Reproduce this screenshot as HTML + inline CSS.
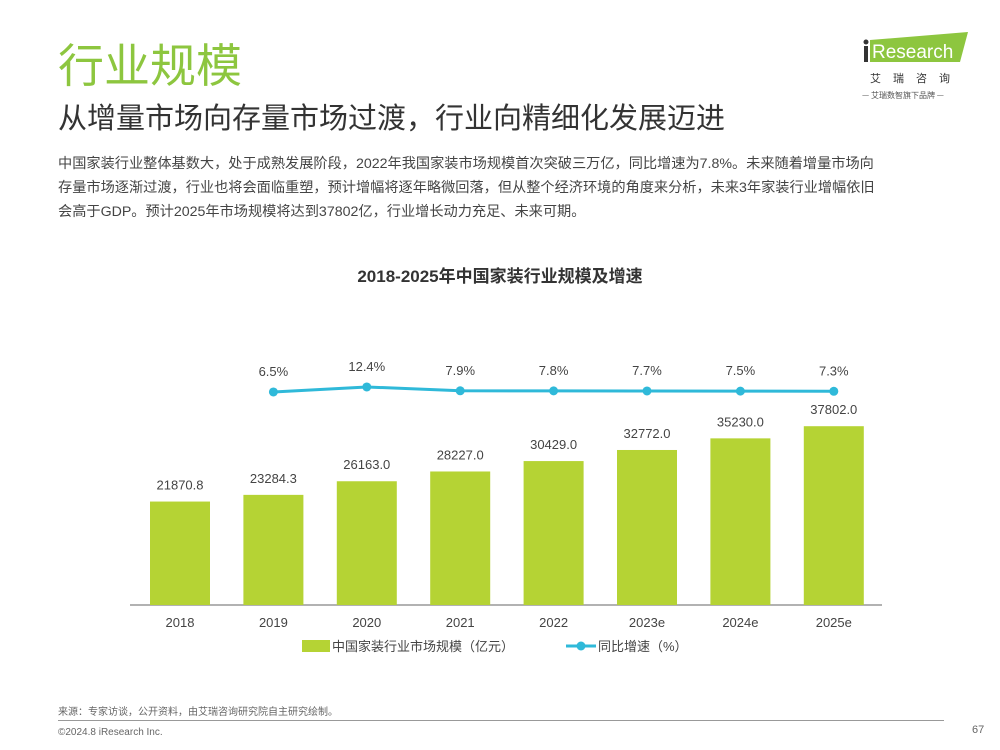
<!DOCTYPE html>
<html><head><meta charset="utf-8"><style>
body{margin:0;width:1000px;height:750px;background:#fff;font-family:"Liberation Sans","Noto Sans CJK SC",sans-serif;position:relative;overflow:hidden}
.a{position:absolute;white-space:nowrap}
</style></head><body>
<div class="a" style="left:58px;top:38px;font-size:46px;color:#8dc63f;line-height:56px">行业规模</div>
<div class="a" style="left:58px;top:100px;font-size:29px;color:#333;line-height:38px">从增量市场向存量市场过渡，行业向精细化发展迈进</div>
<div class="a" style="left:58px;top:152px;font-size:14.2px;color:#444;line-height:24px">中国家装行业整体基数大，处于成熟发展阶段，2022年我国家装市场规模首次突破三万亿，同比增速为7.8%。未来随着增量市场向<br>存量市场逐渐过渡，行业也将会面临重塑，预计增幅将逐年略微回落，但从整个经济环境的角度来分析，未来3年家装行业增幅依旧<br>会高于GDP。预计2025年市场规模将达到37802亿，行业增长动力充足、未来可期。</div>
<div class="a" style="left:862px;top:32px;width:108px;height:70px">
<svg width="108" height="70"><polygon points="8,8 106,0 98,30 8,30" fill="#8dc63f"/><circle cx="4" cy="10" r="2.5" fill="#333"/><rect x="2" y="14" width="4" height="16" fill="#333"/>
<text x="10" y="26" font-size="19" fill="#fff" font-family="Liberation Sans">Research</text>
<text x="8" y="50" font-size="11" fill="#333" letter-spacing="12" font-family="Noto Sans CJK SC">艾瑞咨询</text>
<text x="0" y="66" font-size="8" fill="#555" font-family="Noto Sans CJK SC">— 艾瑞数智旗下品牌 —</text></svg></div>
<div class="a" style="left:0;width:1000px;text-align:center;top:262px;font-size:17px;font-weight:bold;color:#333">2018-2025年中国家装行业规模及增速</div>
<svg class="a" style="left:0;top:0" width="1000" height="750" id="chart"></svg>
<div class="a" style="left:58px;top:703px;font-size:10px;color:#666">来源：专家访谈，公开资料，由艾瑞咨询研究院自主研究绘制。</div>
<div class="a" style="left:58px;top:720px;width:886px;height:1px;background:#999"></div>
<div class="a" style="left:58px;top:727px;font-size:10px;color:#666">©2024.8 iResearch Inc.</div>
<div class="a" style="left:972px;top:724px;font-size:11px;color:#666">67</div>
<script>
const categories=["2018","2019","2020","2021","2022","2023e","2024e","2025e"];
const marketSize=[21870.8,23284.3,26163.0,28227.0,30429.0,32772.0,35230.0,37802.0];
const growth=[null,6.5,12.4,7.9,7.8,7.7,7.5,7.3];
const svg=document.getElementById('chart');const NS='http://www.w3.org/2000/svg';
function mk(t,a){const e=document.createElementNS(NS,t);for(const k in a)e.setAttribute(k,a[k]);svg.appendChild(e);return e;}
const x=i=>180+i*93.4, base=605, yb=v=>base-v*0.00473, yl=v=>397.5-v*0.85;
const ax=mk('line',{x1:130,x2:882,y1:base,y2:base,stroke:'#666','stroke-width':1});

categories.forEach((c,i)=>{
 const r=mk('rect',{x:x(i)-30,y:yb(marketSize[i]),width:60,height:base-yb(marketSize[i]),fill:'#b5d334'});
 
 const t=mk('text',{x:x(i),y:yb(marketSize[i])-12,'text-anchor':'middle','font-size':13,fill:'#444'});t.textContent=marketSize[i].toFixed(1);
 
 const l=mk('text',{x:x(i),y:627,'text-anchor':'middle','font-size':13,fill:'#444'});l.textContent=c;
 
});
let pts=[];growth.forEach((g,i)=>{if(g!=null)pts.push(x(i)+','+yl(g));});
const pl=mk('polyline',{points:pts.join(' '),fill:'none',stroke:'#2fb9d9','stroke-width':3});

growth.forEach((g,i)=>{if(g==null)return;
 const c=mk('circle',{cx:x(i),cy:yl(g),r:4.5,fill:'#2fb9d9'});
 
 const t=mk('text',{x:x(i),y:yl(g)-16,'text-anchor':'middle','font-size':13,fill:'#444'});t.textContent=g.toFixed(1)+'%';
 
});
const lr=mk('rect',{x:302,y:640,width:28,height:12,fill:'#b5d334'});

const lt=mk('text',{x:332,y:651,'font-size':13,fill:'#444'});lt.textContent='中国家装行业市场规模（亿元）';

const ll=mk('line',{x1:566,x2:596,y1:646,y2:646,stroke:'#2fb9d9','stroke-width':3});

const lc=mk('circle',{cx:581,cy:646,r:4.5,fill:'#2fb9d9'});

const lt2=mk('text',{x:598,y:651,'font-size':13,fill:'#444'});lt2.textContent='同比增速（%）';

</script>
</body></html>
